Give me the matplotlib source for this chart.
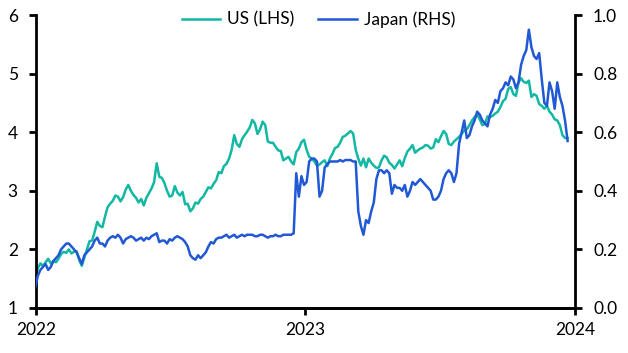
import numpy as np
import pandas as pd
import matplotlib
matplotlib.use("Agg")
import matplotlib.pyplot as plt
import matplotlib.dates as mdates

plt.rcParams['font.family'] = ['Lato', 'DejaVu Sans']

# twice-weekly observations of 10-year government bond yields, %
dates = pd.date_range('2021-12-31', periods=207, freq='84h')

us = [1.51, 1.68, 1.76, 1.72, 1.78, 1.84, 1.76, 1.80, 1.78, 1.84,
      1.92, 1.96, 1.94, 2.00, 1.93, 1.96, 1.97, 1.82, 1.72, 1.86,
      2.00, 2.14, 2.15, 2.30, 2.47, 2.40, 2.38, 2.56, 2.72, 2.78,
      2.83, 2.92, 2.90, 2.82, 2.89, 3.02, 3.10, 3.00, 2.93, 2.88,
      2.80, 2.86, 2.75, 2.88, 2.96, 3.04, 3.15, 3.47, 3.24, 3.22,
      3.13, 3.00, 2.90, 2.92, 3.08, 2.97, 2.92, 2.98, 2.77, 2.78,
      2.65, 2.70, 2.80, 2.78, 2.86, 2.90, 2.98, 3.06, 3.04, 3.12,
      3.18, 3.32, 3.30, 3.42, 3.46, 3.55, 3.70, 3.95, 3.80, 3.75,
      3.88, 3.95, 4.01, 4.08, 4.21, 4.15, 3.97, 4.05, 4.18, 4.12,
      3.84, 3.82, 3.82, 3.75, 3.69, 3.68, 3.52, 3.55, 3.58, 3.50,
      3.45, 3.66, 3.72, 3.83, 3.87, 3.70, 3.58, 3.55, 3.50, 3.43,
      3.45, 3.49, 3.52, 3.42, 3.55, 3.63, 3.73, 3.75, 3.82, 3.92,
      3.94, 3.98, 4.02, 3.98, 3.70, 3.55, 3.43, 3.55, 3.40, 3.55,
      3.48, 3.43, 3.39, 3.40, 3.52, 3.60, 3.57, 3.48, 3.44, 3.38,
      3.45, 3.52, 3.42, 3.56, 3.67, 3.72, 3.78, 3.65, 3.69, 3.72,
      3.74, 3.78, 3.77, 3.72, 3.74, 3.88, 3.83, 3.93, 4.02, 3.97,
      3.80, 3.78, 3.84, 3.88, 3.92, 3.97, 4.03, 4.05, 4.12, 4.20,
      4.26, 4.30, 4.22, 4.12, 4.14, 4.27, 4.26, 4.28, 4.32, 4.35,
      4.43, 4.53, 4.57, 4.74, 4.77, 4.65, 4.62, 4.85, 4.92, 4.86,
      4.84, 4.88, 4.60, 4.65, 4.62, 4.48, 4.45, 4.40, 4.45, 4.35,
      4.30, 4.22, 4.20, 4.12, 3.95, 3.90, 3.90]

japan = [0.07, 0.11, 0.13, 0.14, 0.15, 0.13, 0.14, 0.16, 0.17, 0.18,
         0.20, 0.21, 0.22, 0.22, 0.21, 0.20, 0.19, 0.17, 0.15, 0.18,
         0.19, 0.20, 0.21, 0.23, 0.24, 0.22, 0.22, 0.21, 0.23, 0.24,
         0.245, 0.24, 0.25, 0.24, 0.22, 0.235, 0.24, 0.245, 0.24, 0.23,
         0.235, 0.24, 0.23, 0.24, 0.235, 0.245, 0.25, 0.255, 0.225, 0.23,
         0.23, 0.22, 0.235, 0.23, 0.24, 0.245, 0.24, 0.235, 0.225, 0.21,
         0.18, 0.17, 0.165, 0.18, 0.17, 0.18, 0.19, 0.21, 0.225, 0.22,
         0.235, 0.24, 0.24, 0.245, 0.25, 0.24, 0.245, 0.25, 0.24, 0.245,
         0.25, 0.245, 0.25, 0.25, 0.25, 0.245, 0.245, 0.25, 0.25, 0.245,
         0.24, 0.245, 0.245, 0.25, 0.245, 0.245, 0.25, 0.25, 0.25, 0.25,
         0.255, 0.46, 0.38, 0.45, 0.42, 0.43, 0.50, 0.51, 0.51, 0.50,
         0.38, 0.40, 0.48, 0.49, 0.50, 0.50, 0.50, 0.50, 0.505, 0.50,
         0.505, 0.505, 0.505, 0.50, 0.50, 0.33, 0.28, 0.25, 0.30, 0.29,
         0.33, 0.36, 0.44, 0.47, 0.47, 0.46, 0.47, 0.46, 0.39, 0.42,
         0.41, 0.41, 0.40, 0.42, 0.38, 0.40, 0.43, 0.42, 0.43, 0.44,
         0.43, 0.42, 0.41, 0.40, 0.37, 0.37, 0.38, 0.40, 0.44, 0.46,
         0.47, 0.46, 0.43, 0.46, 0.56, 0.60, 0.64, 0.58, 0.59, 0.62,
         0.64, 0.67, 0.66, 0.64, 0.63, 0.62, 0.66, 0.68, 0.71, 0.70,
         0.74, 0.75, 0.77, 0.76, 0.79, 0.78, 0.75, 0.77, 0.83, 0.86,
         0.88, 0.95, 0.89, 0.86, 0.85, 0.87, 0.78, 0.70, 0.69, 0.77,
         0.74, 0.68, 0.77, 0.72, 0.69, 0.64, 0.57]

teal = '#12B8A2'
blue = '#2158D4'

fig = plt.figure(figsize=(6.28, 3.53), dpi=100)
ax = fig.add_axes([0.0573, 0.1275, 0.8583, 0.83])
ax2 = ax.twinx()

l1, = ax.plot(dates, us, color=teal, lw=1.8)
l2, = ax2.plot(dates, japan, color=blue, lw=1.8)

ax.set_xlim(pd.Timestamp('2022-01-01'), pd.Timestamp('2024-01-01'))
ax.set_ylim(1, 6)
ax2.set_ylim(0, 1.0)
ax.set_yticks([1, 2, 3, 4, 5, 6])
ax2.set_yticks([0, 0.2, 0.4, 0.6, 0.8, 1.0])
ax2.set_yticklabels(['0.0', '0.2', '0.4', '0.6', '0.8', '1.0'])
ax.xaxis.set_major_locator(mdates.YearLocator())
ax.xaxis.set_major_formatter(mdates.DateFormatter('%Y'))

for a in (ax, ax2):
    a.spines['top'].set_visible(False)
    for s in ('left', 'right', 'bottom'):
        a.spines[s].set_linewidth(2)
        a.spines[s].set_color('black')
    a.tick_params(axis='both', direction='out', length=5, width=2, labelsize=12.5, colors='black')
    a.tick_params(axis='y', pad=8)
    a.tick_params(axis='x', pad=5)
ax.spines['right'].set_visible(False)
ax2.spines['left'].set_visible(False)

fig.legend([l1, l2], ['US (LHS)', 'Japan (RHS)'], loc='center', bbox_to_anchor=(0.507, 0.945),
           ncol=2, frameon=False, fontsize=12.5, handlelength=2.2, handletextpad=0.4,
           columnspacing=1.4)

fig.savefig('out.png', dpi=100)
